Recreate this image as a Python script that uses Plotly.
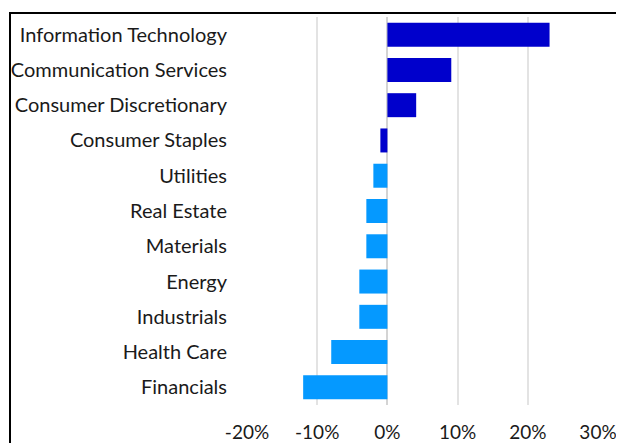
import plotly.graph_objects as go

sectors = ["Information Technology", "Communication Services", "Consumer Discretionary",
           "Consumer Staples", "Utilities", "Real Estate", "Materials", "Energy",
           "Industrials", "Health Care", "Financials"]
returns = [23.1, 9.1, 4.1, -1.0, -2.0, -3.0, -3.0, -4.0, -4.0, -8.0, -12.0]
dark_blue = "#0000CC"
light_blue = "#0599FF"
bar_colors = [dark_blue] * 4 + [light_blue] * 7
tick_vals = [-20, -10, 0, 10, 20, 30]
tick_text = ["-20%", "-10%", "0%", "10%", "20%", "30%"]

# page body has an 8px margin, so the figure is laid out 8px smaller
W, H = 616, 435
L, R, T, B = 239, 26, 9, 38

fig = go.Figure(go.Bar(
    x=returns, y=sectors, orientation="h",
    marker=dict(color=bar_colors, line=dict(width=0)),
    width=0.68,
))

cat_font = dict(family="Lato, Carlito, sans-serif", size=20, color="#1a1a1a")
tick_font = dict(family="Lato, Carlito, sans-serif", size=19, color="#1a1a1a")

fig.update_layout(
    width=W, height=H,
    margin=dict(l=L, r=R, t=T, b=B, pad=0, autoexpand=False),
    paper_bgcolor="white", plot_bgcolor="white",
    showlegend=False,
    font=cat_font,
    xaxis=dict(
        range=[-20, 30], tickvals=tick_vals, ticktext=tick_text,
        showgrid=True, gridcolor="#E3E3E3", gridwidth=2,
        zeroline=True, zerolinecolor="#D4D4D4", zerolinewidth=2,
        showline=False, ticks="outside", ticklen=10, tickcolor="rgba(0,0,0,0)",
        tickfont=tick_font, fixedrange=True, automargin=False,
    ),
    yaxis=dict(
        autorange="reversed", showgrid=False, zeroline=False, showline=False,
        ticks="outside", ticklen=15, tickcolor="rgba(0,0,0,0)",
        tickfont=cat_font, fixedrange=True, automargin=False,
    ),
)

pw = W - L - R
ph = H - T - B
def px_x(p):
    return (p - L) / pw
def px_y(p):
    return (H - B - p) / ph

fig.add_shape(type="rect", xref="paper", yref="paper",
              x0=px_x(2), x1=px_x(700), y0=px_y(520), y1=px_y(5),
              line=dict(color="black", width=2), fillcolor="rgba(0,0,0,0)", layer="above")

fig.write_html("out.html")
